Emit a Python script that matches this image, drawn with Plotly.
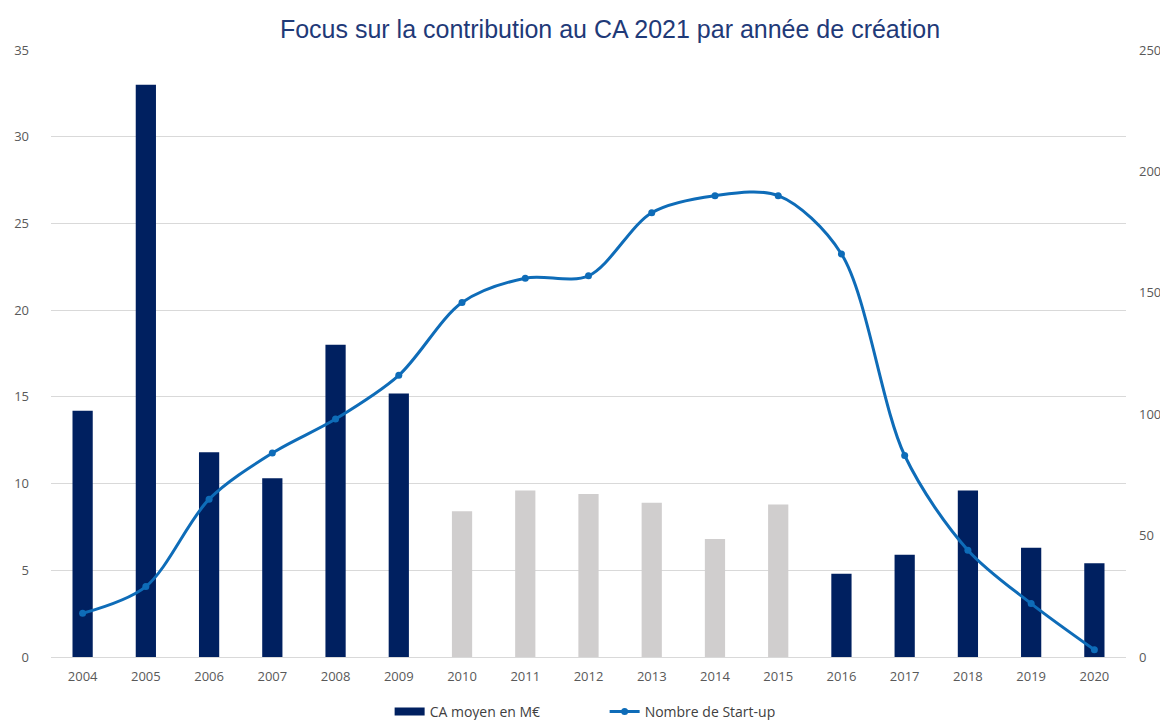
import plotly.graph_objects as go

years = ["2004", "2005", "2006", "2007", "2008", "2009", "2010", "2011", "2012",
         "2013", "2014", "2015", "2016", "2017", "2018", "2019", "2020"]
ca_moyen = [14.2, 33.0, 11.8, 10.3, 18.0, 15.2, 8.4, 9.6, 9.4, 8.9, 6.8, 8.8,
            4.8, 5.9, 9.6, 6.3, 5.4]
nb_startup = [18, 29, 65, 84, 98, 116, 146, 156, 157, 183, 190, 190, 166, 83, 44, 22, 3]
highlight_grey = ["2010", "2011", "2012", "2013", "2014", "2015"]

NAVY = "#002060"
GREY = "#D0CECE"
LINE = "#0E6CB8"
bar_colors = [GREY if y in highlight_grey else NAVY for y in years]

fig = go.Figure()
fig.add_trace(go.Bar(
    x=years, y=ca_moyen, name="CA moyen en M€",
    marker=dict(color=bar_colors, line=dict(width=0)),
    yaxis="y", showlegend=False, legendgroup="ca",
))
# legend entry for the bars, drawn as a wide rectangle like the original
fig.add_trace(go.Scatter(
    x=[None], y=[None], name="CA moyen en M€", mode="lines",
    line=dict(color=NAVY, width=8), legendgroup="ca", yaxis="y",
))
fig.add_trace(go.Scatter(
    x=years, y=nb_startup, name="Nombre de Start-up",
    mode="lines+markers",
    line=dict(color=LINE, width=3, shape="spline", smoothing=0.9),
    marker=dict(color=LINE, size=7),
    yaxis="y2",
))

tick_font = dict(family="Open Sans, sans-serif", size=13, color="#595959")

W, H = 1160, 712
fig.update_layout(
    width=W, height=H,
    paper_bgcolor="white", plot_bgcolor="white",
    margin=dict(l=43, r=42, t=42, b=63, autoexpand=False),
    title=dict(
        text="Focus sur la contribution au CA 2021 par année de création",
        font=dict(family="Liberation Sans, Arial, sans-serif", size=25, color="#1F3A78"),
        x=602 / W, xref="container", xanchor="center",
        y=1 - 21 / H, yref="container", yanchor="middle",
        automargin=False,
    ),
    bargap=0.68,
    showlegend=True,
    legend=dict(
        orientation="h", x=0.515, xanchor="center",
        yref="container", y=8 / H, yanchor="middle",
        font=dict(family="Open Sans, sans-serif", size=14, color="#404040"),
        traceorder="normal", itemwidth=30, entrywidth=170,
    ),
    xaxis=dict(
        type="category", range=[-0.5, len(years) - 0.5],
        tickfont=tick_font, showgrid=False, automargin=False,
        showline=True, linecolor="#D9D9D9", linewidth=1,
        ticks="", ticklabelstandoff=7,
    ),
    yaxis=dict(
        range=[0, 35], dtick=5, tickfont=tick_font, automargin=False,
        showgrid=True, gridcolor="#D9D9D9", gridwidth=1,
        zeroline=False, showline=False, ticks="", ticklabelstandoff=21,
    ),
    yaxis2=dict(
        range=[0, 250], dtick=50, tickfont=tick_font, overlaying="y", side="right",
        automargin=False,
        showgrid=False, zeroline=False, showline=False, ticks="", ticklabelstandoff=12,
    ),
)

fig.write_html("out.html")
